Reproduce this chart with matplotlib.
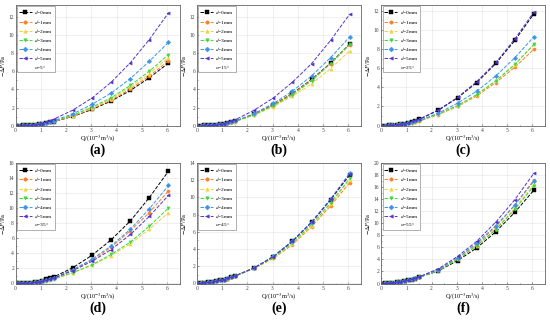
import matplotlib
matplotlib.use('Agg')
import matplotlib.pyplot as plt
from matplotlib.ticker import MultipleLocator

plt.rcParams['font.family'] = ['Liberation Serif', 'DejaVu Serif']
plt.rcParams['mathtext.fontset'] = 'stix'

# flow rate Q (10^-3 m^3/s)
q_low = [0.0, 0.15, 0.30, 0.45, 0.61, 0.76, 0.91, 1.06]
q_high = [1.21, 1.36, 1.52, 2.27, 3.03, 3.79, 4.55, 5.30, 6.06]

labels = ['(a)', '(b)', '(c)', '(d)', '(e)', '(f)']
angles = ['5', '15', '25', '35', '45', '55']
d_names = ['0mm', '1mm', '2mm', '3mm', '4mm', '5mm']

# -dP at low Q (series overlap there), one list per panel
low_a = [0.0, 0.005, 0.02, 0.045, 0.08, 0.12, 0.17, 0.22]
low_b = [0.0, 0.005, 0.02, 0.045, 0.08, 0.12, 0.17, 0.22]
low_c = [0.0, 0.006, 0.022, 0.05, 0.09, 0.13, 0.18, 0.24]
low_d = [0.0, 0.008, 0.03, 0.06, 0.1, 0.15, 0.21, 0.28]
low_e = [0.0, 0.02, 0.06, 0.12, 0.19, 0.27, 0.36, 0.45]
low_f = [0.0, 0.02, 0.07, 0.14, 0.22, 0.32, 0.42, 0.53]

# -dP for Q >= 1.21, per panel, series d=0..5mm
dp_a = [
    [0.28, 0.35, 0.44, 1.02, 1.78, 2.72, 3.88, 5.28, 6.9],
    [0.29, 0.36, 0.46, 1.06, 1.86, 2.82, 4.05, 5.48, 7.15],
    [0.30, 0.38, 0.48, 1.10, 1.95, 2.95, 4.25, 5.75, 7.5],
    [0.31, 0.39, 0.50, 1.15, 2.05, 3.08, 4.45, 6.0, 7.85],
    [0.34, 0.43, 0.55, 1.30, 2.35, 3.6, 5.2, 7.1, 9.2],
    [0.44, 0.56, 0.72, 1.72, 3.05, 4.8, 6.95, 9.5, 12.45],
]
dp_b = [
    [0.30, 0.38, 0.48, 1.25, 2.3, 3.55, 5.1, 6.9, 9.0],
    [0.30, 0.38, 0.48, 1.25, 2.28, 3.5, 5.05, 6.85, 8.95],
    [0.28, 0.36, 0.45, 1.15, 2.1, 3.25, 4.6, 6.3, 8.25],
    [0.29, 0.37, 0.47, 1.20, 2.2, 3.4, 4.95, 6.85, 9.0],
    [0.31, 0.40, 0.50, 1.35, 2.45, 3.8, 5.5, 7.5, 9.8],
    [0.40, 0.50, 0.65, 1.70, 3.05, 4.8, 6.85, 9.4, 12.3],
]
dp_c = [
    [0.42, 0.53, 0.66, 1.6, 2.9, 4.5, 6.5, 8.9, 11.7],
    [0.30, 0.37, 0.47, 1.15, 2.0, 3.1, 4.5, 6.1, 8.0],
    [0.31, 0.39, 0.49, 1.2, 2.05, 3.2, 4.65, 6.35, 8.5],
    [0.31, 0.39, 0.49, 1.22, 2.1, 3.25, 4.7, 6.4, 8.5],
    [0.34, 0.43, 0.54, 1.3, 2.35, 3.6, 5.2, 7.1, 9.3],
    [0.43, 0.54, 0.68, 1.65, 2.95, 4.6, 6.6, 9.05, 11.9],
]
dp_d = [
    [0.55, 0.70, 0.88, 2.1, 3.75, 5.8, 8.3, 11.4, 14.9],
    [0.45, 0.58, 0.73, 1.8, 3.1, 4.8, 7.0, 9.4, 12.3],
    [0.36, 0.46, 0.57, 1.4, 2.4, 3.7, 5.25, 7.2, 9.4],
    [0.37, 0.47, 0.60, 1.45, 2.5, 3.85, 5.5, 7.6, 10.0],
    [0.48, 0.60, 0.76, 1.85, 3.2, 5.0, 7.2, 9.9, 13.0],
    [0.44, 0.56, 0.70, 1.7, 2.95, 4.5, 6.5, 8.9, 11.7],
]
dp_e = [
    [0.57, 0.71, 0.87, 1.8, 3.1, 4.9, 7.1, 9.7, 12.6],
    [0.56, 0.70, 0.85, 1.75, 2.9, 4.5, 6.6, 9.0, 11.7],
    [0.56, 0.70, 0.85, 1.75, 2.95, 4.6, 6.7, 9.2, 12.0],
    [0.57, 0.70, 0.86, 1.77, 3.0, 4.7, 6.85, 9.35, 12.2],
    [0.58, 0.72, 0.88, 1.8, 3.15, 4.95, 7.15, 9.8, 12.8],
    [0.58, 0.72, 0.88, 1.8, 3.1, 4.9, 7.1, 9.75, 12.7],
]
dp_f = [
    [0.65, 0.82, 1.05, 2.1, 3.8, 5.9, 8.6, 11.8, 15.5],
    [0.70, 0.88, 1.10, 2.25, 4.2, 6.5, 9.4, 13.0, 17.2],
    [0.68, 0.86, 1.08, 2.2, 4.05, 6.3, 9.05, 12.5, 16.5],
    [0.67, 0.85, 1.07, 2.15, 4.0, 6.25, 8.95, 12.3, 16.2],
    [0.70, 0.88, 1.10, 2.3, 4.25, 6.7, 9.6, 13.0, 17.0],
    [0.72, 0.92, 1.15, 2.45, 4.5, 7.0, 10.2, 13.9, 18.3],
]

lows = [low_a, low_b, low_c, low_d, low_e, low_f]
dps = [dp_a, dp_b, dp_c, dp_d, dp_e, dp_f]
ylims = [13.3, 13.3, 12.6, 16.0, 14.0, 20.0]

colors = ['#000000', '#FF7F27', '#F2D33A', '#3CD83C', '#3A95E8', '#5533C8']
markers = ['s', 'o', '^', 'v', 'D', '<']

fig = plt.figure(figsize=(5.5, 3.2), dpi=100)
lefts = [0.0285, 0.358, 0.693]
bottoms = [0.606, 0.113]
w, h = 0.298, 0.378

for k in range(6):
    row, col = divmod(k, 3)
    ax = fig.add_axes([lefts[col], bottoms[row], w, h])
    q = q_low + q_high
    for i in range(6):
        y = lows[k] + dps[k][i]
        ax.plot(q, y, ls='--', lw=0.7, color=colors[i], marker=markers[i],
                ms=2.3, mew=0.3, label='$d$=' + d_names[i])
    ax.plot([], [], ls='none', label=r'$\alpha$=' + angles[k] + '°')
    ax.set_xlim(0, 6.5)
    ax.set_ylim(-0.05, ylims[k])
    ax.xaxis.set_major_locator(MultipleLocator(1))
    ax.yaxis.set_major_locator(MultipleLocator(2))
    ax.xaxis.set_minor_locator(MultipleLocator(0.5))
    ax.yaxis.set_minor_locator(MultipleLocator(1))
    ax.grid(True, color='#e4e4e4', lw=0.4)
    ax.set_axisbelow(True)
    ax.tick_params(which='both', direction='in', labelsize=4, width=0.4,
                   length=1.5, pad=1.2, colors='#444444')
    ax.tick_params(which='minor', length=0.8)
    for s in ax.spines.values():
        s.set_color('#666666')
        s.set_linewidth(0.6)
    ax.set_xlabel('Q/(10$^{-3}$m$^3$/s)', fontsize=4.5, labelpad=1)
    ax.set_ylabel(r'$-\Delta P$/Pa', fontsize=4.5, labelpad=1)
    leg = ax.legend(loc='upper left', fontsize=3.9, frameon=True, fancybox=False,
                    edgecolor='#555555', labelspacing=0.22, handlelength=2.4,
                    handletextpad=0.4, borderpad=0.35, borderaxespad=0.25,
                    markerscale=1.1)
    leg.get_frame().set_linewidth(0.4)
    fig.text(lefts[col] + w / 2, bottoms[row] - 0.075, labels[k],
             ha='center', va='center', fontsize=10, fontweight='bold')

fig.savefig('out.png', dpi=100)
